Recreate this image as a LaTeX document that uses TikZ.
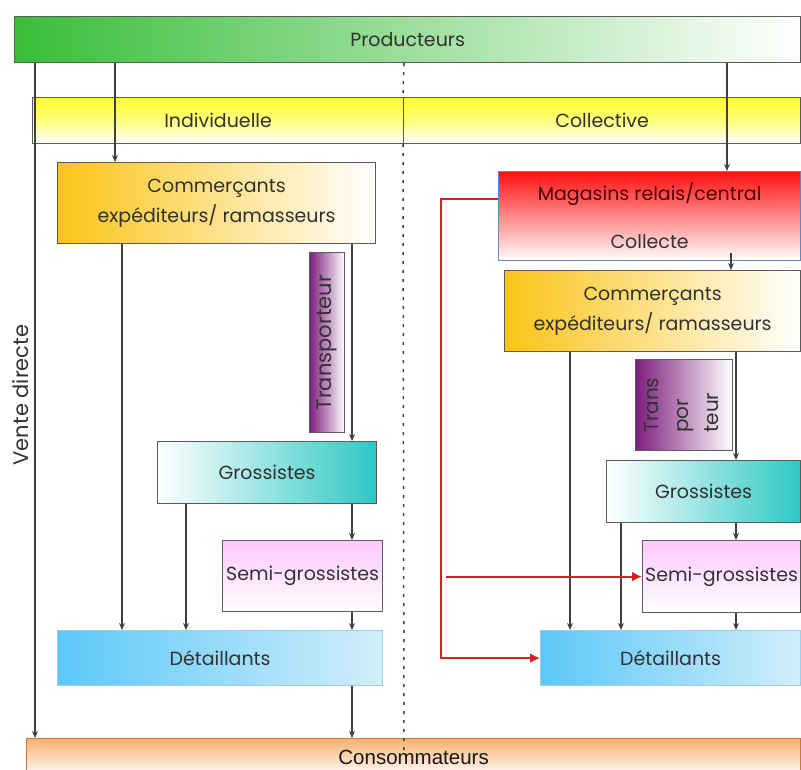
\documentclass[tikz,border=0pt]{standalone}
\usepackage{fontspec}
\setmainfont{Poppins}
\newfontfamily\consofont{Liberation Sans}
\usetikzlibrary{arrows.meta,positioning}

\definecolor{linegray}{RGB}{64,64,64}
\definecolor{boxgray}{RGB}{90,90,90}
\definecolor{txtgray}{RGB}{50,50,50}
\definecolor{prodgreen}{RGB}{56,190,56}
\definecolor{indyellow}{RGB}{255,255,40}
\definecolor{comorange}{RGB}{251,196,22}
\definecolor{transpurple}{RGB}{125,30,125}
\definecolor{grosteal}{RGB}{46,200,196}
\definecolor{semipink}{RGB}{255,200,255}
\definecolor{detblue}{RGB}{91,200,248}
\definecolor{detlight}{RGB}{210,238,251}
\definecolor{detborder}{RGB}{160,205,230}
\definecolor{magred}{RGB}{255,16,16}
\definecolor{magborder}{RGB}{100,135,190}
\definecolor{consorange}{RGB}{248,176,112}
\definecolor{consborder}{RGB}{200,120,60}
\definecolor{flowred}{RGB}{212,32,32}

\tikzset{
  box/.style={draw=boxgray, line width=1.2pt, anchor=north west, inner sep=0pt,
    align=center, text=txtgray, font=\fontsize{19}{23}\selectfont},
  arr/.style={draw=linegray, line width=1.5pt, -{Stealth[length=7pt,width=6pt]}},
  redarr/.style={draw=flowred, line width=2pt, -{Latex[length=10pt,width=10pt]}},
  sep/.style={draw=linegray, line width=1.5pt, dash pattern=on 3pt off 6pt},
}

\begin{document}
\begin{tikzpicture}[x=1pt,y=-1pt]
\clip (0,0) rectangle (801,770);
\fill[white] (0,0) rectangle (801,770);

% top bands
\node[box, left color=prodgreen, right color=white, minimum width=786pt, minimum height=46pt] (prod)
  at (14,16) {Producteurs};
\node[box, top color=indyellow, bottom color=white, middle color=indyellow!60, minimum width=371pt,
  minimum height=46pt] (indiv) at (32,97) {Individuelle};
\node[box, top color=indyellow, bottom color=white, middle color=indyellow!60, minimum width=397pt,
  minimum height=46pt] (coll) at (403,97) {Collective};
\node[box, draw=consborder, top color=consorange, bottom color=white, minimum width=774pt,
  minimum height=38pt, text=black!90, font=\consofont\fontsize{20.5}{22}\selectfont] (conso)
  at (26,738) {Consommateurs};

% left side
\node[box, left color=comorange, right color=white, minimum width=318pt, minimum height=81pt] (comL)
  at (57,162) {Commerçants\\[7pt]expéditeurs/ ramasseurs};
\node[box, left color=transpurple, right color=white, minimum width=35pt, minimum height=180pt] (transL)
  at (309,252) {\rotatebox{90}{\fontsize{21}{23}\selectfont Transporteur}};
\node[box, left color=white, right color=grosteal, minimum width=219pt, minimum height=62pt] (grosL)
  at (157,441) {Grossistes};
\node[box, top color=semipink, bottom color=white, minimum width=160pt, minimum height=71pt] (semiL)
  at (222,540) {Semi-grossistes};
\node[box, draw=detborder, left color=detblue, right color=detlight, minimum width=325pt,
  minimum height=55pt] (detL) at (57,630) {Détaillants};

% right side
\node[box, draw=magborder, top color=magred, bottom color=white, minimum width=302pt, minimum height=89pt] (mag)
  at (498,171) {{\color{black!70!red}Magasins relais/central}\\[25pt]Collecte};
\node[box, left color=comorange, right color=white, minimum width=296pt, minimum height=81pt] (comR)
  at (504,270) {Commerçants\\[7pt]expéditeurs/ ramasseurs};
\node[box, left color=transpurple, right color=white, minimum width=97pt, minimum height=91pt] (transR)
  at (635,359) {\rotatebox{90}{\fontsize{20}{23}\selectfont\begin{tabular}{@{}l@{}}Trans\\[7pt]por\\[7pt]teur\end{tabular}}};
\node[box, left color=white, right color=grosteal, minimum width=194pt, minimum height=62pt] (grosR)
  at (606,460) {Grossistes};
\node[box, top color=semipink, bottom color=white, minimum width=158pt, minimum height=72pt] (semiR)
  at (642,540) {Semi-grossistes};
\node[box, draw=detborder, left color=detblue, right color=detlight, minimum width=260pt,
  minimum height=55pt] (detR) at (540,630) {Détaillants};

\node[rotate=90, text=txtgray, font=\fontsize{21}{23}\selectfont] (vente) at (21,395) {Vente directe};

% columns for the connectors
\coordinate (xv) at (35,0);
\coordinate (xa) at (115,0);
\coordinate (xb) at (122,0);
\coordinate (xc) at (186,0);
\coordinate (xd) at (352,0);
\coordinate (xs) at (404,0);
\coordinate (xr) at (441,0);
\coordinate (xf) at (570,0);
\coordinate (xg) at (621,0);
\coordinate (xe) at (727,0);
\coordinate (xm) at (731,0);
\coordinate (xh) at (736,0);

% separator
\draw[sep] (prod.south -| xs) -- (coll.north west);
\draw[sep] (coll.south west) -- ([yshift=-18pt]conso.north -| xs);

% connectors, left
\draw[arr] (prod.south -| xv) -- (conso.north -| xv);
\draw[arr] (prod.south -| xa) -- (comL.north -| xa);
\draw[arr] (comL.south -| xb) -- (detL.north -| xb);
\draw[arr] (comL.south -| xd) -- (grosL.north -| xd);
\draw[arr] (grosL.south -| xc) -- (detL.north -| xc);
\draw[arr] (grosL.south -| xd) -- (semiL.north -| xd);
\draw[arr] (semiL.south -| xd) -- (detL.north -| xd);
\draw[arr] (detL.south -| xd) -- (conso.north -| xd);

% connectors, right
\draw[arr] (prod.south -| xe) -- (mag.north -| xe);
\draw[arr] ([yshift=8pt]mag.south -| xm) -- (comR.north -| xm);
\draw[arr] (comR.south -| xf) -- (detR.north -| xf);
\draw[arr] (comR.south -| xh) -- (grosR.north -| xh);
\draw[arr] (grosR.south -| xg) -- (detR.north -| xg);
\draw[arr] (grosR.south -| xh) -- (semiR.north -| xh);
\draw[arr] (semiR.south -| xh) -- (detR.north -| xh);

% direct flows from the magasins
\draw[redarr] ([yshift=17pt]mag.west) -| (xr |- detR.west) -- (detR.west);
\draw[redarr] ([xshift=5pt]xr |- semiR.west) -- (semiR.west);
\end{tikzpicture}
\end{document}
